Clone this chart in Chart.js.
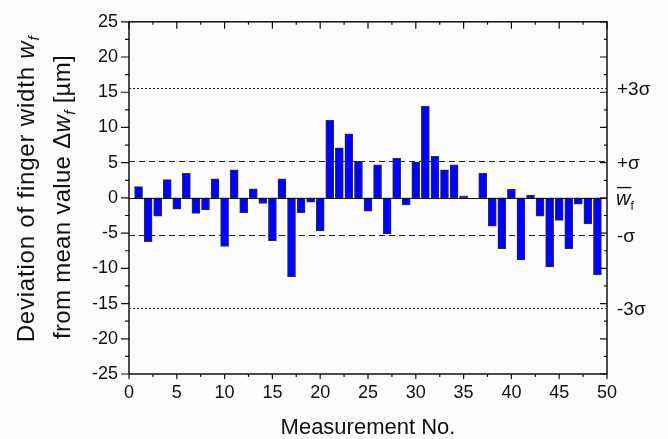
<!DOCTYPE html>
<html>
<head>
<meta charset="utf-8">
<script src="https://cdn.jsdelivr.net/npm/chart.js@4/dist/chart.umd.min.js"></script>
<style>
  html, body { margin: 0; padding: 0; background: #fdfcfc; }
  canvas { display: block; }
</style>
</head>
<body>
<canvas id="chart" width="668" height="439"></canvas>
<script>
// =========================
// 1. DATA
// =========================

// Measurement numbers 1..49
const measurementNo = [
   1,  2,  3,  4,  5,  6,  7,  8,  9, 10,
  11, 12, 13, 14, 15, 16, 17, 18, 19, 20,
  21, 22, 23, 24, 25, 26, 27, 28, 29, 30,
  31, 32, 33, 34, 35, 36, 37, 38, 39, 40,
  41, 42, 43, 44, 45, 46, 47, 48, 49
];

// Deviation from mean finger width [µm] (36 has no deviation bar)
const deviation = [
   1.6, -6.2, -2.6,  2.6, -1.6,  3.5, -2.2, -1.7,  2.7, -6.9,
   4.0, -2.1,  1.3, -0.8, -6.1,  2.7, -11.2, -2.1, -0.6, -4.7,
  11.0,  7.1,  9.1,  5.2, -1.9,  4.7, -5.1,  5.6, -1.0,  5.1,
  13.0,  5.9,  4.0,  4.7,  0.3, null,  3.5, -4.0, -7.2,  1.2,
  -8.8,  0.4, -2.6, -9.8, -3.2, -7.2, -0.9, -3.7, -10.9
];

// Sigma bands around the mean
const sigmaLevels = [15.6, 5.2, -5.2, -15.6];
const sigmaLabels = ['+3σ', '+σ', '-σ', '-3σ'];
const sigmaDash = [[2, 2], [6, 4], [6, 4], [2, 2]];

const xTicks = [0, 5, 10, 15, 20, 25, 30, 35, 40, 45, 50];
const yTicks = [-25, -20, -15, -10, -5, 0, 5, 10, 15, 20, 25];

const FONT = "'Liberation Sans', Arial, sans-serif";

// =========================
// 2. DRAWING HELPERS
// =========================

// Draws a run of [text, style] segments centred on 0 along the current baseline
function drawRich(ctx, parts, size, spacing) {
    ctx.letterSpacing = spacing + 'px';
    const fonts = parts.map(p => {
        const s = p[1] === 'sub' ? Math.round(size * 0.62) : size;
        const it = (p[1] === 'it' || p[1] === 'sub') ? 'italic ' : '';
        return it + s + 'px ' + FONT;
    });
    let total = 0;
    const widths = parts.map((p, i) => {
        ctx.font = fonts[i];
        const w = ctx.measureText(p[0]).width;
        total += w;
        return w;
    });
    let x = -total / 2;
    parts.forEach((p, i) => {
        ctx.font = fonts[i];
        ctx.fillText(p[0], x, p[1] === 'sub' ? size * 0.22 : 0);
        x += widths[i];
    });
    ctx.letterSpacing = '0px';
}

const framePlugin = {
    id: 'frame',
    beforeDatasetsDraw(chart) {
        const { ctx, chartArea: a, scales: { y } } = chart;
        ctx.save();
        ctx.strokeStyle = '#222';
        ctx.lineWidth = 1;
        sigmaLevels.forEach((v, i) => {
            const py = Math.round(y.getPixelForValue(v)) + 0.5;
            ctx.setLineDash(sigmaDash[i]);
            ctx.beginPath();
            ctx.moveTo(a.left, py);
            ctx.lineTo(a.right, py);
            ctx.stroke();
        });
        ctx.restore();
    },
    afterDatasetsDraw(chart) {
        const { ctx, chartArea: a, scales: { x, y } } = chart;
        ctx.save();
        ctx.strokeStyle = '#111';

        // zero line
        ctx.lineWidth = 1;
        const y0 = Math.round(y.getPixelForValue(0)) + 0.5;
        ctx.beginPath();
        ctx.moveTo(a.left, y0);
        ctx.lineTo(a.right, y0);
        ctx.stroke();

        // axis box
        ctx.lineWidth = 1.5;
        ctx.strokeRect(a.left, a.top, a.right - a.left, a.bottom - a.top);

        // major ticks every 5, minor every 2.5
        ctx.lineWidth = 1.2;
        ctx.beginPath();
        for (let v = 0; v <= 50; v += 2.5) {
            const px = x.getPixelForValue(v);
            const major = v % 5 === 0;
            ctx.moveTo(px, a.bottom);
            ctx.lineTo(px, a.bottom + (major ? 5 : 3));
            ctx.moveTo(px, a.top);
            ctx.lineTo(px, a.top + (major ? 7 : 3));
        }
        for (let v = -25; v <= 25; v += 2.5) {
            const py = y.getPixelForValue(v);
            const major = v % 5 === 0;
            ctx.moveTo(a.left, py);
            ctx.lineTo(a.left - (major ? 8 : 4), py);
            ctx.moveTo(a.right, py);
            ctx.lineTo(a.right - (major ? 7 : 3), py);
        }
        ctx.stroke();
        ctx.restore();
    },
    afterDraw(chart) {
        const { ctx, chartArea: a, scales: { y } } = chart;
        ctx.save();
        ctx.fillStyle = '#111';

        // right side sigma labels
        ctx.textAlign = 'left';
        ctx.textBaseline = 'middle';
        ctx.font = '19px ' + FONT;
        sigmaLevels.forEach((v, i) => {
            ctx.fillText(sigmaLabels[i], a.right + 10, y.getPixelForValue(v) + 2);
        });

        // mean marker: overlined w with subscript f
        const ym = y.getPixelForValue(0);
        ctx.textBaseline = 'alphabetic';
        ctx.font = 'italic 20px ' + FONT;
        const ww = ctx.measureText('w').width;
        ctx.fillText('w', a.right + 9, ym + 7);
        ctx.font = '12px ' + FONT;
        ctx.fillText('f', a.right + 9 + ww, ym + 12);
        ctx.fillRect(a.right + 10, ym - 11, ww, 1.3);

        // x axis title
        ctx.font = '22px ' + FONT;
        const tx = 'Measurement No.';
        ctx.fillText(tx, (a.left + a.right) / 2 - ctx.measureText(tx).width / 2, 434);

        // y axis title, two rotated lines
        ctx.save();
        ctx.translate(34, 189);
        ctx.rotate(-Math.PI / 2);
        drawRich(ctx, [['Deviation of finger width ', 'n'], ['w', 'it'], ['f', 'sub']], 24, 0.8);
        ctx.restore();
        ctx.save();
        ctx.translate(70, 197);
        ctx.rotate(-Math.PI / 2);
        drawRich(ctx, [['from mean value Δ', 'n'], ['w', 'it'], ['f', 'sub'], [' [µm]', 'n']], 24, 0.3);
        ctx.restore();

        ctx.restore();
    }
};

// =========================
// 3. CHART
// =========================

const ctx = document.getElementById('chart');

const chart = new Chart(ctx, {
    type: 'bar',
    data: {
        datasets: [{
            data: measurementNo.map((n, i) => ({ x: n, y: deviation[i] })),
            backgroundColor: '#0000ff',
            borderColor: '#333',
            borderWidth: 1,
            borderSkipped: false,
            barThickness: 8
        }]
    },
    options: {
        responsive: false,
        animation: false,
        layout: { padding: { top: 21, right: 61, left: 0, bottom: 0 } },
        plugins: {
            legend: { display: false },
            tooltip: { enabled: false }
        },
        scales: {
            x: {
                type: 'linear',
                min: 0,
                max: 50,
                offset: false,
                afterBuildTicks: s => { s.ticks = xTicks.map(v => ({ value: v })); },
                ticks: { color: '#111', font: { size: 18, family: FONT }, padding: 8, maxRotation: 0 },
                grid: { display: false, drawTicks: false },
                border: { display: false },
                afterFit: s => { s.height = 65; }
            },
            y: {
                min: -25,
                max: 25,
                afterBuildTicks: s => { s.ticks = yTicks.map(v => ({ value: v })); },
                ticks: { color: '#111', font: { size: 18, family: FONT }, padding: 11 },
                grid: { display: false, drawTicks: false },
                border: { display: false },
                afterFit: s => { s.width = 129; }
            }
        }
    },
    plugins: [framePlugin]
});
</script>
</body>
</html>
